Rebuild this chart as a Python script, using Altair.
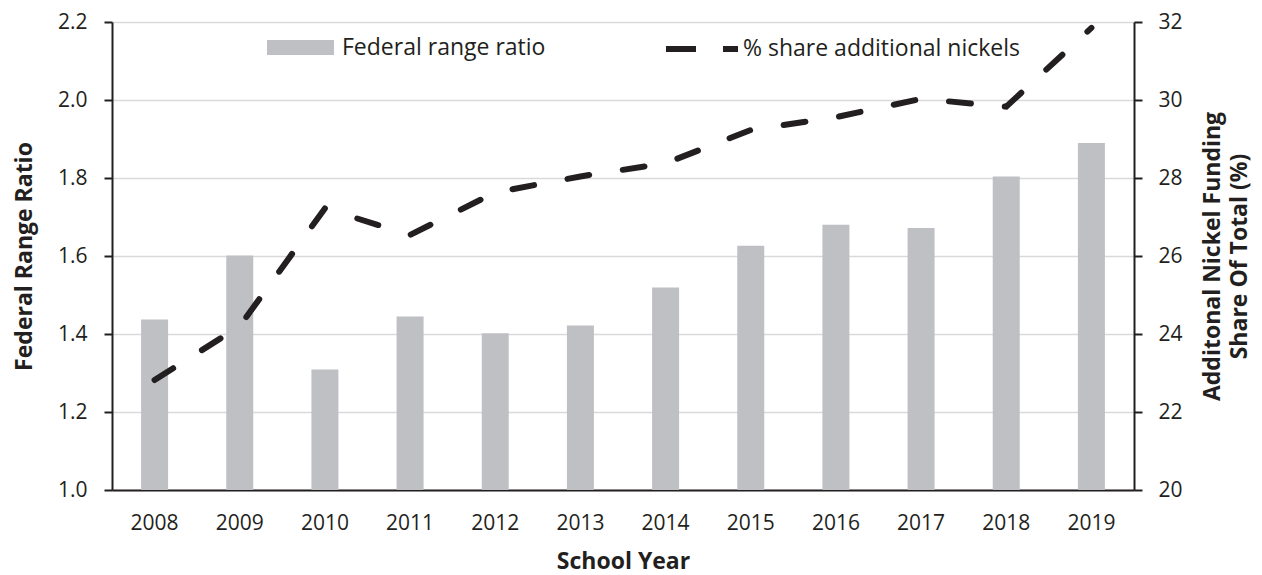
import altair as alt
import pandas as pd

years = [str(y) for y in range(2008, 2020)]
ratio = [1.437, 1.601, 1.309, 1.445, 1.402, 1.422, 1.519, 1.626, 1.680, 1.672, 1.804, 1.890]
share = [22.82, 24.2, 27.22, 26.54, 27.63, 28.04, 28.38, 29.23, 29.56, 30.03, 29.83, 31.85]

bar_name = "Federal range ratio"
line_name = "% share additional nickels"

df = pd.DataFrame({"year": years, "ratio": ratio, "share": share,
                   "bar_series": bar_name, "line_series": line_name})

FONT = "Open Sans"
TXT = "#231f20"
BAR = "#bfc0c4"

xenc = alt.X(
    "year:O",
    scale=alt.Scale(paddingInner=0.683, paddingOuter=0.3415),
    axis=alt.Axis(title="School Year", labelAngle=0, ticks=False, tickSize=0,
                  domainColor=TXT, domainWidth=2, labelPadding=22, titlePadding=17,
                  grid=False),
)

bars = alt.Chart(df).mark_bar().encode(
    x=xenc,
    y=alt.Y("ratio:Q",
            scale=alt.Scale(domain=[1.0, 2.2], nice=False, zero=False),
            axis=alt.Axis(title="Federal Range Ratio", values=[1.0, 1.2, 1.4, 1.6, 1.8, 2.0, 2.2],
                          format=".1f", orient="left", grid=True, gridColor="#d9d9d9", gridWidth=1.5,
                          domainColor=TXT, domainWidth=2, tickColor=TXT, tickWidth=2, tickSize=8,
                          labelPadding=17, titlePadding=21)),
    y2=alt.datum(1.0),
    fill=alt.Fill("bar_series:N", scale=alt.Scale(range=[BAR]),
                  legend=alt.Legend(title=None, orient="none", legendX=155, legendY=-8,
                                    symbolType="M-1,-0.224H1V0.224H-1Z", symbolSize=4489,
                                    symbolStrokeWidth=0, symbolFillColor=BAR, labelOffset=8,
                                    labelLimit=0,
                                    labelFont=FONT, labelFontSize=23, labelColor=TXT)),
)

line = alt.Chart(df).mark_line(strokeWidth=6, strokeDash=[22, 34], strokeCap="round").encode(
    x=alt.X("year:O", bandPosition=0.5),
    y=alt.Y("share:Q",
            scale=alt.Scale(domain=[20, 32], nice=False, zero=False),
            axis=alt.Axis(title=["Additonal Nickel Funding", "Share Of Total (%)"],
                          values=[20, 22, 24, 26, 28, 30, 32], orient="right", grid=False,
                          domainColor=TXT, domainWidth=2, tickColor=TXT, tickWidth=2, tickSize=8,
                          labelPadding=16, titleAngle=270, titleX=78, titleY=234,
                          titleAlign="center", titleBaseline="middle", titleLineHeight=27)),
    stroke=alt.Stroke("line_series:N", scale=alt.Scale(range=[TXT]),
                      legend=alt.Legend(title=None, orient="none", legendX=551, legendY=-12,
                                        symbolType="stroke", symbolSize=5184,
                                        symbolStrokeWidth=6, symbolDash=[30, 27],
                                        symbolStrokeColor=TXT, labelOffset=2, labelLimit=0,
                                        labelFont=FONT, labelFontSize=23, labelColor=TXT)),
)

chart = alt.layer(bars, line).resolve_scale(y="independent", fill="independent", stroke="independent").properties(
    width=1022, height=468,
    autosize=alt.AutoSizeParams(type="none"),
    padding={"left": 104, "top": 14, "right": 120, "bottom": 85},
).configure_axis(
    labelFont=FONT, labelFontSize=21, labelColor=TXT,
    titleFont=FONT, titleFontSize=23, titleFontWeight="bold", titleColor=TXT,
).configure_view(stroke=None)

chart.save("out.html", embed_options={"renderer": "svg", "actions": False})
